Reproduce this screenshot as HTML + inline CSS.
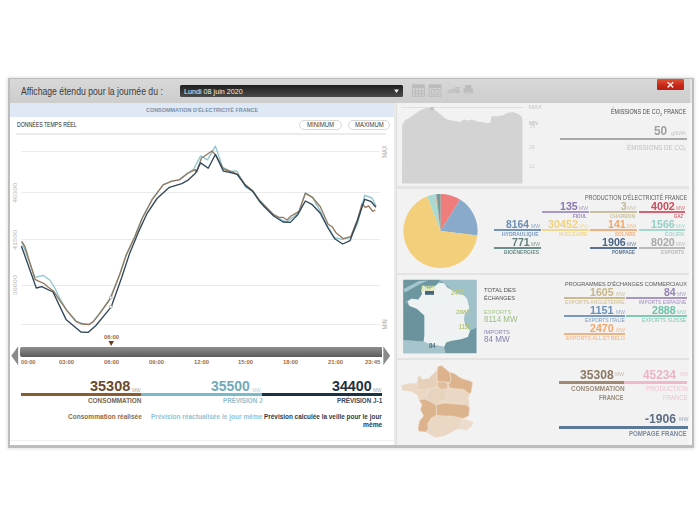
<!DOCTYPE html><html><head><meta charset="utf-8"><style>
html,body{margin:0;padding:0;background:#fff;width:700px;height:525px;overflow:hidden;position:relative}
.r{position:absolute}
.t{position:absolute;white-space:nowrap;line-height:1;font-family:"Liberation Sans",sans-serif;transform-origin:0 0}
</style></head><body><div style="position:absolute;left:0;top:0;width:700px;height:525px;filter:blur(0.45px)">
<div class="r" style="left:7.80px;top:77.50px;width:686.20px;height:370.50px;background:#bdbdbd;box-shadow:0 0 3px 1px rgba(0,0,0,0.11);"></div>
<div class="r" style="left:10.20px;top:79.00px;width:681.80px;height:24.00px;background:linear-gradient(#d8d8d8,#cdcdcd);"></div>
<div class="r" style="left:690.20px;top:79.00px;width:1.80px;height:24.00px;background:#e4e4e4;"></div>
<div class="r" style="left:10.20px;top:103.00px;width:383.80px;height:342.00px;background:#ffffff;"></div>
<div class="r" style="left:394.00px;top:103.00px;width:3.00px;height:342.00px;background:#eaeaea;"></div>
<div class="r" style="left:396.00px;top:103.00px;width:1.00px;height:342.00px;background:#dfdfdf;"></div>
<div class="r" style="left:397.00px;top:103.00px;width:295.00px;height:342.00px;background:#f2f2f2;"></div>
<div class="r" style="left:688.80px;top:103.00px;width:3.20px;height:342.00px;background:#f7f7f7;"></div>
<div class="r" style="left:397.00px;top:186.00px;width:292.00px;height:2.50px;background:#e3e3e3;"></div>
<div class="r" style="left:397.00px;top:272.50px;width:292.00px;height:2.50px;background:#e3e3e3;"></div>
<div class="r" style="left:397.00px;top:357.50px;width:292.00px;height:2.50px;background:#e3e3e3;"></div>
<div class="t" style="left:21.00px;top:85.62px;font-size:10.76px;color:#3c3c3c;transform:scaleX(0.8051);">Affichage étendu pour la journée du :</div>
<div class="r" style="left:180.00px;top:85.00px;width:223.00px;height:12.00px;background:linear-gradient(#1f1f1f,#4b4b4b);border-radius:1.5px;"></div>
<div class="t" style="left:183.70px;top:87.70px;font-size:7.99px;color:#f0f0f0;transform:scaleX(0.8994);">Lundi 08 juin 2020</div>
<svg class="r" style="left:394px;top:89px" width="6" height="5"><polygon points="0,0.5 5,0.5 2.5,4" fill="#eee"/></svg>
<div class="r" style="left:657.00px;top:79.00px;width:27.00px;height:11.00px;background:linear-gradient(#e2552f,#c8281c 55%,#b71e12);border-radius:1px;"></div>
<svg class="r" style="left:666px;top:81px" width="9" height="8"><path d="M1.6 1.2 L7.2 6.4 M7.2 1.2 L1.6 6.4" stroke="#fbeeee" stroke-width="1.5"/></svg>
<svg class="r" style="left:0;top:0" width="700" height="525">
 <g fill="none" stroke="#bababa" stroke-width="0.9">
  <rect x="412.4" y="85" width="12" height="11.3"/>
  <path d="M415.5 88.5v7.8 M418.5 88.5v7.8 M421.5 88.5v7.8 M412.4 91.1h12 M412.4 93.7h12"/>
  <rect x="429" y="85" width="12" height="11.3"/>
  <rect x="431.3" y="89.6" width="7.4" height="5.2"/>
  <path d="M432.6 94 L435 90.6 L437.4 94"/>
 </g>
 <rect x="412.4" y="84.5" width="12" height="3.6" fill="#bcbcbc"/>
 <rect x="429" y="84.5" width="12" height="3.6" fill="#bcbcbc"/>
 <path d="M446.5 92.5 L450 89.5 L453 89.2 L455.5 87 L460.5 87 L459 89.5 L460.5 92.3 L457 93.3 L452 92.8 L449 93.5 Z" fill="#c0c0c0"/>
 <path d="M450 91.5 h6 M454 88.6 h4" stroke="#d0d0d0" stroke-width="0.7"/>
 <rect x="465.3" y="85" width="6" height="3.5" fill="#bdbdbd"/>
 <rect x="463.6" y="88.3" width="9.4" height="4.8" rx="1" fill="#bcbcbc"/>
 <rect x="465.3" y="91.5" width="6" height="2.8" fill="#c6c6c6"/>
</svg>
<div class="r" style="left:10.00px;top:103.00px;width:384.00px;height:14.00px;background:#dfe9f5;"></div>
<div class="t" style="left:146.00px;top:106.85px;font-size:6.10px;color:#788ea8;font-weight:bold;transform:scaleX(0.8923);">CONSOMMATION D'ÉLECTRICITÉ FRANCE</div>
<div class="t" style="left:17.00px;top:121.86px;font-size:6.69px;color:#262626;transform:scaleX(0.7734);">DONNÉES TEMPS RÉEL</div>
<div class="r" style="left:298.50px;top:120.00px;width:43.00px;height:9.50px;border:1px solid #d9d9d9;border-radius:5px;background:#fff;box-sizing:border-box;"></div>
<div class="r" style="left:347.50px;top:120.00px;width:42.50px;height:9.50px;border:1px solid #d9d9d9;border-radius:5px;background:#fff;box-sizing:border-box;"></div>
<div class="t" style="left:307.30px;top:121.93px;font-size:6.54px;color:#3a3a3a;transform:scaleX(0.9225);">MINIMUM</div>
<div class="t" style="left:354.80px;top:121.93px;font-size:6.54px;color:#3a3a3a;transform:scaleX(0.9060);">MAXIMUM</div>
<div class="r" style="left:16.00px;top:133.00px;width:370.00px;height:1.80px;background:#ebebeb;"></div>
<div class="r" style="left:21.00px;top:150.50px;width:359.00px;height:1.00px;background:#ebebeb;"></div>
<div class="r" style="left:21.00px;top:192.20px;width:359.00px;height:1.00px;background:#ebebeb;"></div>
<div class="r" style="left:21.00px;top:238.70px;width:359.00px;height:1.00px;background:#ebebeb;"></div>
<div class="r" style="left:21.00px;top:285.30px;width:359.00px;height:1.00px;background:#ebebeb;"></div>
<div class="r" style="left:21.00px;top:323.70px;width:359.00px;height:1.00px;background:#ebebeb;"></div>
<div class="t" style="left:0.00px;top:0.00px;font-size:5.81px;color:#b9b9b9;transform-origin:0 0;transform:translate(16.30px,193.00px) rotate(-90deg) scaleX(1.2582) translate(-7.95px,-2.90px)">46300</div>
<div class="t" style="left:0.00px;top:0.00px;font-size:5.81px;color:#b9b9b9;transform-origin:0 0;transform:translate(16.30px,240.00px) rotate(-90deg) scaleX(1.2582) translate(-7.95px,-2.90px)">41500</div>
<div class="t" style="left:0.00px;top:0.00px;font-size:5.81px;color:#b9b9b9;transform-origin:0 0;transform:translate(16.30px,285.30px) rotate(-90deg) scaleX(1.2582) translate(-7.95px,-2.90px)">36600</div>
<div class="t" style="left:0.00px;top:0.00px;font-size:6.69px;color:#aaaaaa;transform-origin:0 0;transform:translate(385.50px,151.30px) rotate(-90deg) scaleX(0.8649) translate(-7.52px,-3.34px)">MAX</div>
<div class="t" style="left:0.00px;top:0.00px;font-size:6.69px;color:#aaaaaa;transform-origin:0 0;transform:translate(385.50px,324.30px) rotate(-90deg) scaleX(0.8046) translate(-6.21px,-3.34px)">MIN</div>
<svg class="r" style="left:0;top:0" width="700" height="525"><g fill="none" stroke-linejoin="round" stroke-width="1.35"><polyline points="21.8,241.7 35.0,277.3 43.0,275.3 49.7,280.0 53.7,286.0 60.3,299.3 67.0,310.5 76.0,321.0 82.0,323.5 88.9,324.2 93.4,321.2 99.1,314.0 109.4,299.7 119.9,273.7 126.1,255.0 134.8,236.5 142.2,218.0 152.1,199.5 163.2,184.7 171.9,181.0 179.3,179.8 187.6,173.0 193.7,169.0 200.6,156.0 207.4,159.8 215.4,146.1 222.7,167.4 230.3,171.2 237.1,171.2 245.5,187.2 251.6,190.3 259.2,199.4 264.3,205.5 273.7,215.0 283.0,220.7 287.0,222.0 291.0,218.7 299.0,212.0 305.4,192.7 312.3,197.0 320.0,210.7 328.0,226.7 334.0,237.3 342.0,239.3 350.7,237.3 357.3,224.0 364.7,195.3 372.0,198.0 376.0,206.0" stroke="#8cc6d2"/><polyline points="21.7,241.3 25.0,246.7 35.0,279.3 39.0,281.3 43.7,283.3 48.3,287.3 53.7,291.3 59.1,299.4 67.1,310.9 76.3,321.7 82.0,324.0 88.9,324.6 93.4,321.7 99.1,314.3 109.4,300.0 111.1,297.1 119.9,274.0 126.1,255.4 134.8,236.8 142.2,218.3 152.1,199.7 163.2,184.9 171.9,181.1 179.3,179.9 187.6,173.5 195.2,169.7 196.8,172.0 201.3,158.3 212.0,151.0 215.8,155.2 223.4,169.0 231.8,172.0 237.9,174.3 244.8,184.2 253.1,191.0 259.2,200.2 264.3,205.3 273.7,214.7 279.0,217.3 283.0,217.3 287.0,220.0 291.0,216.0 299.0,211.3 305.4,193.3 312.3,197.3 320.3,206.7 328.0,224.0 332.0,226.7 336.0,232.7 343.3,238.7 350.7,236.7 357.3,220.0 362.0,204.0 365.3,207.3 368.7,206.0 372.7,211.3 375.3,210.0" stroke="#94795f"/><polyline points="21.4,246.0 36.3,288.0 41.7,286.7 53.0,292.0 66.0,319.4 80.9,332.0 88.3,332.3 95.7,325.7 109.4,309.1 111.1,307.2 121.5,278.0 129.8,252.9 138.5,231.9 147.1,213.3 157.0,198.5 169.4,187.3 181.8,183.6 187.6,180.4 195.2,173.5 200.6,162.9 208.2,168.2 215.4,154.5 223.4,171.2 231.8,172.8 237.1,174.3 245.5,185.7 253.1,191.8 259.2,201.0 264.3,206.7 273.7,216.0 283.0,222.0 290.3,222.4 297.7,214.7 305.4,201.0 312.3,204.7 320.3,213.3 328.0,228.0 334.7,238.7 342.7,244.0 350.0,240.7 357.3,221.3 364.7,199.3 370.7,201.3 376.0,207.3" stroke="#31475a"/></g><g fill="#fff" stroke="#8f8f8f" stroke-width="0.7"><circle cx="110.8" cy="297.6" r="1.5"/><circle cx="110.8" cy="306.8" r="1.5"/></g></svg>
<div class="t" style="left:103.90px;top:334.94px;font-size:5.52px;color:#9a6a42;font-weight:bold;transform:scaleX(1.0684);">06:00</div>
<svg class="r" style="left:0;top:0" width="700" height="525"><polygon points="108.5,341 114,341 111.2,346" fill="#6e3e1c"/><polygon points="11.3,355.7 18.2,346.3 18.2,365.2" fill="#8a8a8a"/><polygon points="390.2,355.7 383.3,346.3 383.3,365.2" fill="#8a8a8a"/></svg>
<div class="r" style="left:20.00px;top:346.50px;width:361.50px;height:10.50px;background:linear-gradient(#8e8e8e,#707070 60%,#5a5a5a);border-radius:2px 0 0 2px;"></div>
<div class="t" style="left:21.40px;top:359.97px;font-size:5.67px;color:#9e6e44;font-weight:bold;transform:scaleX(0.9985);">00:00</div>
<div class="t" style="left:59.10px;top:359.97px;font-size:5.67px;color:#9e6e44;font-weight:bold;transform:scaleX(1.0474);">03:00</div>
<div class="t" style="left:103.90px;top:359.97px;font-size:5.67px;color:#9e6e44;font-weight:bold;transform:scaleX(1.0474);">06:00</div>
<div class="t" style="left:148.70px;top:359.97px;font-size:5.67px;color:#9e6e44;font-weight:bold;transform:scaleX(1.0474);">09:00</div>
<div class="t" style="left:193.50px;top:359.97px;font-size:5.67px;color:#9e6e44;font-weight:bold;transform:scaleX(1.0474);">12:00</div>
<div class="t" style="left:238.30px;top:359.97px;font-size:5.67px;color:#9e6e44;font-weight:bold;transform:scaleX(1.0474);">15:00</div>
<div class="t" style="left:283.10px;top:359.97px;font-size:5.67px;color:#9e6e44;font-weight:bold;transform:scaleX(1.0474);">18:00</div>
<div class="t" style="left:327.90px;top:359.97px;font-size:5.67px;color:#9e6e44;font-weight:bold;transform:scaleX(1.0474);">21:00</div>
<div class="t" style="left:365.40px;top:359.97px;font-size:5.67px;color:#9e6e44;font-weight:bold;transform:scaleX(1.0684);">23:45</div>
<div class="r" style="left:21.40px;top:393.00px;width:120.00px;height:3.00px;background:#8a5c32;"></div>
<div class="r" style="left:141.40px;top:393.00px;width:120.60px;height:3.00px;background:#7ab9c9;"></div>
<div class="r" style="left:262.00px;top:393.00px;width:120.30px;height:3.00px;background:#1b3244;"></div>
<div class="t" style="left:90.00px;top:378.99px;font-size:14.83px;color:#6b4a2d;font-weight:bold;transform:scaleX(0.9759);">35308</div>
<div class="t" style="left:131.50px;top:388.65px;font-size:4.51px;color:#b8a898;transform:scaleX(1.0859);">MW</div>
<div class="t" style="left:88.00px;top:396.92px;font-size:7.56px;color:#736352;font-weight:bold;transform:scaleX(0.8451);">CONSOMMATION</div>
<div class="t" style="left:210.70px;top:378.99px;font-size:14.83px;color:#72a9b9;font-weight:bold;transform:scaleX(0.9418);">35500</div>
<div class="t" style="left:252.00px;top:388.65px;font-size:4.51px;color:#b9d5de;transform:scaleX(1.0859);">MW</div>
<div class="t" style="left:222.50px;top:397.64px;font-size:7.12px;color:#93bccb;font-weight:bold;transform:scaleX(0.8838);">PRÉVISION J</div>
<div class="t" style="left:331.60px;top:378.99px;font-size:14.83px;color:#1f2f3f;font-weight:bold;transform:scaleX(0.9613);">34400</div>
<div class="t" style="left:372.80px;top:388.65px;font-size:4.51px;color:#a0a8b0;transform:scaleX(1.0516);">MW</div>
<div class="t" style="left:336.80px;top:397.64px;font-size:7.12px;color:#3a4858;font-weight:bold;transform:scaleX(0.8861);">PRÉVISION J-1</div>
<div class="t" style="left:67.50px;top:413.84px;font-size:7.12px;color:#8a6c4e;font-weight:bold;transform:scaleX(0.9209);">Consommation réalisée</div>
<div class="t" style="left:150.70px;top:413.84px;font-size:7.12px;color:#93c3d2;font-weight:bold;transform:scaleX(0.9209);">Prévision réactualisée le jour même</div>
<div class="t" style="left:264.30px;top:413.84px;font-size:7.12px;color:#2b3a48;font-weight:bold;transform:scaleX(0.9006);">Prévision calculée la veille pour le jour</div>
<div class="t" style="left:363.00px;top:421.84px;font-size:7.12px;color:#2b3a48;font-weight:bold;transform:scaleX(0.9370);">même</div>
<div class="r" style="left:10.20px;top:439.50px;width:383.80px;height:1.50px;background:#f0f0f0;"></div>
<svg class="r" style="left:0;top:0" width="700" height="525"><line x1="401" y1="107.5" x2="523" y2="107.5" stroke="#d9d9d9" stroke-width="0.8"/><polygon points="402,183.5 402.2,124.4 403.5,123.0 405.3,120.0 408.9,118.2 411.0,117.0 414.2,114.6 417.0,112.5 420.4,110.2 423.0,109.0 426.6,108.0 429.0,107.8 431.9,107.5 435.4,110.2 438.0,112.5 440.7,114.6 443.0,116.5 446.1,119.0 450.5,120.4 452.0,120.2 454.9,121.3 457.0,121.0 459.3,122.6 463.8,119.6 467.5,120.5 472.3,119.6 477.0,121.5 481.7,121.9 484.0,122.5 487.4,123.3 490.2,122.9 491.6,116.3 497.7,116.3 503.4,115.3 507.2,113.0 512.8,112.0 517.5,113.4 521.3,116.3 522.4,119.0 522.5,183.5" fill="#d3d3d3"/><circle cx="432.2" cy="108.6" r="1.3" fill="none" stroke="#9a9a9a" stroke-width="0.6"/></svg>
<div class="t" style="left:528.60px;top:104.87px;font-size:5.67px;color:#c6c6c6;transform:scaleX(1.0733);">MAX</div>
<div class="t" style="left:529.00px;top:120.88px;font-size:5.23px;color:#b4b4b4;transform:scaleX(0.9186);">MIN</div>
<div class="t" style="left:529.50px;top:124.90px;font-size:4.80px;color:#d4d4d4;transform:scaleX(0.9704);">38</div>
<div class="t" style="left:529.20px;top:143.65px;font-size:6.10px;color:#cccccc;transform:scaleX(0.8120);">29</div>
<div class="t" style="left:529.20px;top:163.62px;font-size:5.96px;color:#cccccc;transform:scaleX(0.8207);">12</div>
<div class="t" style="left:610.80px;top:108.53px;font-size:6.54px;color:#4a4a4a;transform:scaleX(0.8312);">ÉMISSIONS DE CO</div>
<div class="t" style="left:660.20px;top:112.52px;font-size:4.36px;color:#4a4a4a;transform:scaleX(0.8667);">2</div>
<div class="t" style="left:664.10px;top:108.53px;font-size:6.54px;color:#4a4a4a;transform:scaleX(0.8183);">FRANCE</div>
<div class="t" style="left:653.80px;top:124.98px;font-size:12.65px;color:#a0a0a0;font-weight:bold;transform:scaleX(0.9408);">50</div>
<div class="t" style="left:671.20px;top:130.76px;font-size:5.09px;color:#c2c2c2;transform:scaleX(1.0572);">g/kWh</div>
<div class="r" style="left:560.20px;top:137.70px;width:126.70px;height:2.50px;background:#a9a9a9;"></div>
<div class="t" style="left:626.90px;top:143.97px;font-size:7.27px;color:#c0c0c0;transform:scaleX(0.8715);">ÉMISSIONS DE CO</div>
<div class="t" style="left:684.40px;top:147.82px;font-size:4.36px;color:#c0c0c0;transform:scaleX(0.7667);">2</div>
<svg class="r" style="left:0;top:0" width="700" height="525"><path d="M440.50 231.00 L440.50 193.90 A37.10 37.10 0 0 1 460.08 199.49 Z" fill="#ef7d7b"/><path d="M440.50 231.00 L460.08 199.49 A37.10 37.10 0 0 1 477.34 235.41 Z" fill="#8aaacb"/><path d="M440.50 231.00 L477.34 235.41 A37.10 37.10 0 1 1 427.33 196.32 Z" fill="#f3cf7b"/><path d="M440.50 231.00 L427.33 196.32 A37.10 37.10 0 0 1 435.12 194.29 Z" fill="#a9d9d0"/><path d="M440.50 231.00 L435.12 194.29 A37.10 37.10 0 0 1 435.84 194.19 Z" fill="#f2b080"/><path d="M440.50 231.00 L435.84 194.19 A37.10 37.10 0 0 1 436.53 194.11 Z" fill="#a898c0"/><path d="M440.50 231.00 L436.53 194.11 A37.10 37.10 0 0 1 440.50 193.90 Z" fill="#6f9e96"/></svg>
<div class="t" style="left:585.00px;top:194.50px;font-size:6.40px;color:#5c5c5c;transform:scaleX(0.8499);">PRODUCTION D'ÉLECTRICITÉ FRANCE</div>
<div class="r" style="left:542.20px;top:211.30px;width:46.80px;height:1.50px;background:#a999c2;"></div><div class="t" style="left:579.10px;top:206.60px;font-size:4.80px;color:#a99cc2;transform:scaleX(1.0560);">MW</div><div class="t" style="left:560.25px;top:200.50px;font-size:11.19px;color:#8a79ae;font-weight:bold;transform:scaleX(0.9515);">135</div><div class="t" style="left:573.10px;top:213.78px;font-size:5.23px;color:#9688b3;font-weight:bold;transform:scaleX(0.8867);">FIOUL</div>
<div class="r" style="left:590.40px;top:211.30px;width:46.80px;height:1.50px;background:#c8c0a0;"></div><div class="t" style="left:627.30px;top:206.60px;font-size:4.80px;color:#cec7ac;transform:scaleX(1.0560);">MW</div><div class="t" style="left:620.55px;top:200.50px;font-size:11.19px;color:#c2b993;font-weight:bold;transform:scaleX(0.9083);">3</div><div class="t" style="left:610.40px;top:213.78px;font-size:5.23px;color:#cac2a2;font-weight:bold;transform:scaleX(0.9478);">CHARBON</div>
<div class="r" style="left:638.60px;top:211.30px;width:46.80px;height:1.50px;background:#d9606e;"></div><div class="t" style="left:675.50px;top:206.60px;font-size:4.80px;color:#dc7a86;transform:scaleX(1.0560);">MW</div><div class="t" style="left:650.60px;top:200.50px;font-size:11.19px;color:#cf4a5a;font-weight:bold;transform:scaleX(0.9568);">4002</div><div class="t" style="left:674.20px;top:213.78px;font-size:5.23px;color:#d86270;font-weight:bold;transform:scaleX(0.8370);">GAZ</div>
<div class="r" style="left:494.00px;top:229.30px;width:46.80px;height:1.50px;background:#7393bb;"></div><div class="t" style="left:530.90px;top:224.60px;font-size:4.80px;color:#8ea8c8;transform:scaleX(1.0560);">MW</div><div class="t" style="left:506.00px;top:218.50px;font-size:11.19px;color:#6b8db7;font-weight:bold;transform:scaleX(0.9195);">8164</div><div class="t" style="left:502.30px;top:231.78px;font-size:5.23px;color:#7898be;font-weight:bold;transform:scaleX(0.9590);">HYDRAULIQUE</div>
<div class="r" style="left:542.20px;top:229.30px;width:46.80px;height:1.50px;background:#f2d88c;"></div><div class="t" style="left:579.10px;top:224.60px;font-size:4.80px;color:#f2dc9b;transform:scaleX(1.0560);">MW</div><div class="t" style="left:548.15px;top:218.50px;font-size:11.19px;color:#f0d27c;font-weight:bold;transform:scaleX(0.9599);">30452</div><div class="t" style="left:559.00px;top:231.78px;font-size:5.23px;color:#f1d78a;font-weight:bold;transform:scaleX(0.9269);">NUCLÉAIRE</div>
<div class="r" style="left:590.40px;top:229.30px;width:46.80px;height:1.50px;background:#f2b080;"></div><div class="t" style="left:627.30px;top:224.60px;font-size:4.80px;color:#f3ba90;transform:scaleX(1.0560);">MW</div><div class="t" style="left:608.45px;top:218.50px;font-size:11.19px;color:#f0a56c;font-weight:bold;transform:scaleX(0.9515);">141</div><div class="t" style="left:614.70px;top:231.78px;font-size:5.23px;color:#f2b081;font-weight:bold;transform:scaleX(0.8939);">SOLAIRE</div>
<div class="r" style="left:638.60px;top:229.30px;width:46.80px;height:1.50px;background:#a5d6cd;"></div><div class="t" style="left:675.50px;top:224.60px;font-size:4.80px;color:#b0dad3;transform:scaleX(1.0560);">MW</div><div class="t" style="left:650.60px;top:218.50px;font-size:11.19px;color:#96cfc5;font-weight:bold;transform:scaleX(0.9568);">1566</div><div class="t" style="left:664.80px;top:231.78px;font-size:5.23px;color:#a5d6cc;font-weight:bold;transform:scaleX(0.9817);">ÉOLIEN</div>
<div class="r" style="left:494.00px;top:247.30px;width:46.80px;height:1.50px;background:#6b8c88;"></div><div class="t" style="left:530.90px;top:242.60px;font-size:4.80px;color:#829b98;transform:scaleX(1.0560);">MW</div><div class="t" style="left:512.05px;top:236.50px;font-size:11.19px;color:#5e7f7b;font-weight:bold;transform:scaleX(0.9515);">771</div><div class="t" style="left:503.80px;top:249.78px;font-size:5.23px;color:#6d8c88;font-weight:bold;transform:scaleX(0.9710);">BIOÉNERGIES</div>
<div class="r" style="left:590.40px;top:247.30px;width:46.80px;height:1.50px;background:#5a7394;"></div><div class="t" style="left:627.30px;top:242.60px;font-size:4.80px;color:#7689a2;transform:scaleX(1.0560);">MW</div><div class="t" style="left:602.40px;top:236.50px;font-size:11.19px;color:#4b6586;font-weight:bold;transform:scaleX(0.9568);">1906</div><div class="t" style="left:612.30px;top:249.78px;font-size:5.23px;color:#5c7290;font-weight:bold;transform:scaleX(0.8803);">POMPAGE</div>
<div class="r" style="left:638.60px;top:247.30px;width:46.80px;height:1.50px;background:#b9b9b9;"></div><div class="t" style="left:675.50px;top:242.60px;font-size:4.80px;color:#bfbfbf;transform:scaleX(1.0560);">MW</div><div class="t" style="left:650.60px;top:236.50px;font-size:11.19px;color:#a9a9a9;font-weight:bold;transform:scaleX(0.9568);">8020</div><div class="t" style="left:660.50px;top:249.78px;font-size:5.23px;color:#b8b8b8;font-weight:bold;transform:scaleX(0.9270);">EXPORTS</div>
<svg class="r" style="left:0;top:0" width="700" height="525"><rect x="403.5" y="280" width="73" height="73.3" fill="#84a8b1"/><polygon points="403.35,279.81 439.62,279.81 436.57,285.14 422.86,285.14 421.33,294.29 418.29,300.38 406.10,300.38 403.35,301.90" fill="#6d96a1"/><polygon points="403.5,289 419,281 428,280.5 421,283.5 405,292.5" fill="#a6c6cc"/><polygon points="439.62,279.81 476.19,279.81 476.19,335.43 470.10,330.86 464.00,319.43 467.05,298.86 452.57,290.48 444.19,283.31" fill="#9fc1c9"/><polygon points="403.35,300.38 409.14,305.71 416.76,308.76 424.38,315.62 424.38,335.43 423.62,341.52 403.35,340.00" fill="#6b939d"/><polygon points="403.35,340.00 423.62,341.52 428.95,343.81 436.57,345.33 444.19,346.86 445.71,352.95 403.35,352.95" fill="#a5c4cb"/><polygon points="444.19,346.86 446.48,342.29 451.81,340.76 460.95,339.24 467.81,336.95 470.10,330.86 476.19,327.81 476.19,352.95 445.71,352.95" fill="#6f97a1"/><polygon points="407.62,301.14 411.43,298.86 418.29,299.62 422.10,294.29 421.33,289.71 422.86,285.14 428.19,288.95 434.29,286.67 438.86,282.86 444.19,283.31 447.24,287.43 452.57,290.48 457.90,293.52 464.00,295.50 467.05,298.86 469.33,308.00 464.76,314.86 464.00,319.43 465.83,325.52 470.10,330.86 467.81,336.95 460.95,339.24 451.81,340.76 446.48,342.29 444.19,346.86 436.57,345.33 428.95,343.81 423.62,341.52 424.38,335.43 424.38,324.76 424.38,315.62 416.76,308.76 409.14,305.71" fill="#eff2f2"/><rect x="425" y="291" width="9" height="3.8" fill="#47667d"/></svg>
<div class="t" style="left:420.70px;top:284.67px;font-size:7.27px;color:#d3df96;font-weight:bold;transform:scaleX(0.8435);">1605</div>
<div class="t" style="left:451.30px;top:288.50px;font-size:7.99px;color:#b9c97c;font-weight:bold;transform:scaleX(0.7478);">2470</div>
<div class="t" style="left:456.30px;top:308.98px;font-size:6.25px;color:#b6c77a;font-weight:bold;transform:scaleX(1.0189);">2888</div>
<div class="t" style="left:459.40px;top:323.76px;font-size:6.69px;color:#b4c678;font-weight:bold;transform:scaleX(0.7844);">1151</div>
<div class="t" style="left:429.00px;top:342.90px;font-size:6.40px;color:#587488;font-weight:bold;transform:scaleX(0.9266);">84</div>
<div class="t" style="left:483.90px;top:287.82px;font-size:5.96px;color:#4e4e4e;transform:scaleX(0.9890);">TOTAL DES</div>
<div class="t" style="left:483.90px;top:295.67px;font-size:5.67px;color:#4e4e4e;transform:scaleX(0.9727);">ÉCHANGES</div>
<div class="t" style="left:483.90px;top:309.98px;font-size:5.23px;color:#a5c58e;transform:scaleX(1.1000);">EXPORTS</div>
<div class="t" style="left:483.90px;top:314.95px;font-size:9.30px;color:#9cbd86;transform:scaleX(0.8571);">8114 MW</div>
<div class="t" style="left:483.90px;top:329.57px;font-size:5.67px;color:#8585ad;transform:scaleX(1.0080);">IMPORTS</div>
<div class="t" style="left:483.90px;top:334.58px;font-size:8.43px;color:#8383ab;transform:scaleX(0.9617);">84 MW</div>
<div class="t" style="left:564.70px;top:280.65px;font-size:6.10px;color:#565656;transform:scaleX(0.9086);">PROGRAMMES D'ÉCHANGES COMMERCIAUX</div>
<div class="r" style="left:564.10px;top:296.90px;width:61.40px;height:1.70px;background:#c9ba90;"></div><div class="t" style="left:615.80px;top:292.53px;font-size:4.94px;color:#d0c4a4;transform:scaleX(1.0095);">MW</div><div class="t" style="left:590.10px;top:286.69px;font-size:10.61px;color:#c6b686;font-weight:bold;transform:scaleX(0.9999);">1605</div><div class="t" style="left:565.00px;top:299.84px;font-size:5.52px;color:#cabb91;transform:scaleX(0.9190);">EXPORTS ANGLETERRE</div>
<div class="r" style="left:625.50px;top:296.90px;width:61.40px;height:1.70px;background:#a696c0;"></div><div class="t" style="left:677.20px;top:292.53px;font-size:4.94px;color:#aea2c7;transform:scaleX(1.0095);">MW</div><div class="t" style="left:663.50px;top:286.69px;font-size:10.61px;color:#9383b3;font-weight:bold;transform:scaleX(0.9832);">84</div><div class="t" style="left:639.10px;top:299.84px;font-size:5.52px;color:#9c8dba;transform:scaleX(0.8939);">IMPORTS ESPAGNE</div>
<div class="r" style="left:564.10px;top:314.90px;width:61.40px;height:1.70px;background:#7898c2;"></div><div class="t" style="left:615.80px;top:310.53px;font-size:4.94px;color:#93abc9;transform:scaleX(1.0095);">MW</div><div class="t" style="left:590.10px;top:304.69px;font-size:10.61px;color:#6d90b9;font-weight:bold;transform:scaleX(1.0253);">1151</div><div class="t" style="left:585.00px;top:317.84px;font-size:5.52px;color:#7a99be;transform:scaleX(0.9021);">EXPORTS ITALIE</div>
<div class="r" style="left:625.50px;top:314.90px;width:61.40px;height:1.70px;background:#80c8b6;"></div><div class="t" style="left:677.20px;top:310.53px;font-size:4.94px;color:#96d1c0;transform:scaleX(1.0095);">MW</div><div class="t" style="left:651.50px;top:304.69px;font-size:10.61px;color:#70c1a9;font-weight:bold;transform:scaleX(0.9999);">2888</div><div class="t" style="left:642.10px;top:317.84px;font-size:5.52px;color:#7ec7b2;transform:scaleX(0.9205);">EXPORTS SUISSE</div>
<div class="r" style="left:564.10px;top:332.90px;width:61.40px;height:1.70px;background:#f1b080;"></div><div class="t" style="left:615.80px;top:328.53px;font-size:4.94px;color:#f2bc95;transform:scaleX(1.0095);">MW</div><div class="t" style="left:590.10px;top:322.69px;font-size:10.61px;color:#f0a66c;font-weight:bold;transform:scaleX(0.9999);">2470</div><div class="t" style="left:565.80px;top:335.84px;font-size:5.52px;color:#f0ae7e;transform:scaleX(0.9559);">EXPORTS ALL ET BELG</div>
<svg class="r" style="left:0;top:0" width="700" height="525"><g stroke="#f1e6dc" stroke-width="0.5"><polygon points="441.6,365.6 446.4,369.6 449.6,372.0 454.4,373.6 460.0,377.6 464.0,379.2 469.6,380.8 472.8,382.4 472.0,387.0 471.2,392.0 469.6,394.0 468.5,398.0 469.5,404.8 469.6,408.0 468.8,416.0 464.0,419.2 470.0,420.5 473.6,422.4 471.2,426.4 466.4,430.4 460.0,428.8 456.0,429.6 449.6,433.6 444.0,436.0 436.0,437.6 432.4,436.0 426.0,432.0 418.8,431.2 418.0,428.0 419.6,420.8 423.6,416.0 420.4,409.6 422.0,404.8 419.0,400.0 418.0,396.0 416.4,394.4 410.8,391.2 402.8,390.4 401.2,385.6 408.4,383.2 416.4,383.2 418.0,376.8 420.4,376.0 422.0,379.2 429.2,378.4 431.6,375.2 435.6,372.0 438.0,366.4" fill="#ead8c5" stroke="none"/><polygon points="418.0,376.8 420.4,376.0 422.0,379.2 429.2,378.4 431.6,375.2 435.6,372.0 438.0,366.4 437.0,374.0 437.5,382.0 437.5,387.0 430.0,389.0 418.0,390.0" fill="#e6d0ba"/><polygon points="430.0,389.0 437.5,387.0 441.0,389.5 447.0,389.0 446.0,399.0 436.0,404.8 431.0,402.0 425.0,399.0" fill="#e8d3bf"/><polygon points="464.0,419.2 470.0,420.5 473.6,422.4 471.2,426.4 466.4,430.4 460.0,428.8 462.4,418.4" fill="#ecdccc"/><polygon points="438.0,366.4 441.6,365.6 446.4,369.6 449.6,372.0 451.0,378.0 450.0,383.0 446.0,382.0 437.5,382.0 437.0,374.0" fill="#dcb38c"/><polygon points="449.6,372.0 454.4,373.6 460.0,377.6 464.0,379.2 469.6,380.8 472.8,382.4 472.0,387.0 471.2,392.0 469.6,394.0 464.0,389.6 456.0,388.8 450.4,388.0 448.0,385.0 450.0,383.0 451.0,378.0" fill="#dcb38c"/><polygon points="422.0,404.8 419.0,400.0 425.0,399.0 431.0,402.0 436.0,404.8 437.0,410.0 436.0,415.2 435.6,416.0 431.6,417.6 427.6,424.0 428.4,428.0 426.0,432.0 418.8,431.2 418.0,428.0 419.6,420.8 423.6,416.0 420.4,409.6" fill="#dcb38c"/><polygon points="436.0,404.8 445.0,403.0 455.0,404.0 466.4,404.8 469.6,408.0 468.8,416.0 462.4,418.4 452.0,416.0 444.0,416.0 436.0,415.2 437.0,410.0" fill="#dcb38c"/><polygon points="437.5,382.0 446.0,382.0 448.0,385.0 447.0,389.0 441.0,389.5 437.5,387.0" fill="#e0bf9e"/></g></svg>
<div class="r" style="left:559.00px;top:381.00px;width:65.00px;height:2.70px;background:#a28a72;"></div>
<div class="r" style="left:624.00px;top:381.00px;width:63.40px;height:2.70px;background:#f0b9c8;"></div>
<div class="t" style="left:580.00px;top:367.56px;font-size:13.08px;color:#8b7762;font-weight:bold;transform:scaleX(0.9254);">35308</div>
<div class="t" style="left:614.60px;top:372.93px;font-size:4.94px;color:#c6b8a8;transform:scaleX(1.0315);">MW</div>
<div class="t" style="left:570.60px;top:384.87px;font-size:7.27px;color:#9b8b79;font-weight:bold;transform:scaleX(0.8817);">CONSOMMATION</div>
<div class="t" style="left:599.40px;top:393.87px;font-size:7.27px;color:#9b8b79;font-weight:bold;transform:scaleX(0.8085);">FRANCE</div>
<div class="t" style="left:643.00px;top:367.56px;font-size:13.08px;color:#ebb3c3;font-weight:bold;transform:scaleX(0.9058);">45234</div>
<div class="t" style="left:679.50px;top:372.93px;font-size:4.94px;color:#f0c8d4;transform:scaleX(0.9327);">MW</div>
<div class="t" style="left:646.00px;top:384.87px;font-size:7.27px;color:#f0c3d0;transform:scaleX(0.8520);">PRODUCTION</div>
<div class="t" style="left:662.60px;top:393.87px;font-size:7.27px;color:#f0c3d0;transform:scaleX(0.8260);">FRANCE</div>
<div class="r" style="left:559.00px;top:426.00px;width:129.00px;height:2.70px;background:#5b7a99;"></div>
<div class="t" style="left:645.00px;top:412.50px;font-size:12.79px;color:#5d6e84;font-weight:bold;transform:scaleX(0.9515);">-1906</div>
<div class="t" style="left:678.50px;top:416.98px;font-size:5.23px;color:#9aa8b8;transform:scaleX(1.0163);">MW</div>
<div class="t" style="left:629.10px;top:430.70px;font-size:6.40px;color:#7c8ba0;font-weight:bold;transform:scaleX(0.9506);">POMPAGE FRANCE</div>
</div></body></html>
